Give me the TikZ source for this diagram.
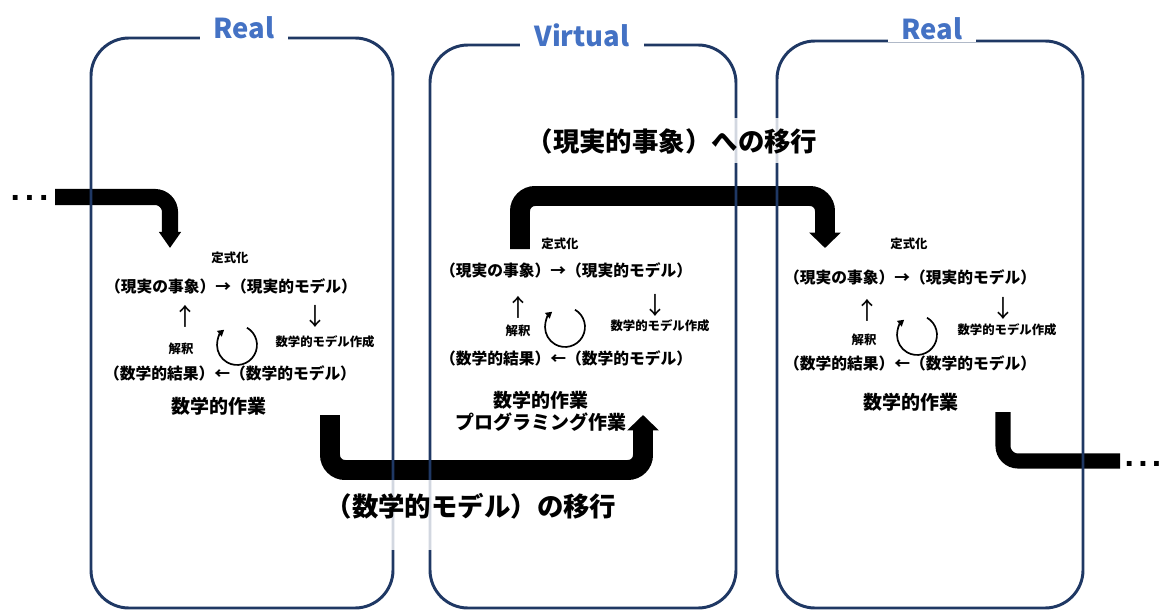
\documentclass[tikz,border=0pt]{standalone}
\usepackage{fontspec}
\setmainfont{Noto Sans CJK JP}
\newfontfamily\dotfont{Liberation Sans}
\usetikzlibrary{arrows.meta}
\definecolor{framenavy}{HTML}{1F3864}
\definecolor{titleblue}{HTML}{4472C4}

\begin{document}
\begin{tikzpicture}[x=0.025cm,y=-0.025cm,
    world/.style={draw=framenavy,line width=2.1pt,rounded corners=27pt},
    title/.style={fill=white,text=titleblue,font=\bfseries\fontsize{19.5}{22}\selectfont,inner xsep=10pt,inner ysep=1pt},
    eq/.style={font=\bfseries\fontsize{11.2}{13}\selectfont,inner sep=0pt},
    vert/.style={font=\fontsize{17}{18}\selectfont,inner sep=0pt},
    tag/.style={font=\bfseries\fontsize{8.8}{10}\selectfont,inner sep=0pt},
    work/.style={font=\bfseries\fontsize{13.5}{15.6}\selectfont,inner sep=0pt,align=center},
    move/.style={font=\bfseries\fontsize{18.8}{22}\selectfont,fill=white,fill opacity=0.8,text opacity=1,inner xsep=4pt,inner ysep=0pt,anchor=base},
    flow/.style={line width=14.2pt,rounded corners=10.7pt},
    bighead/.style={-{Triangle[width=22pt,length=11pt]}},
    cycarrow/.style={line width=1.2pt,-{Triangle[width=5pt,length=4.5pt]}},
    dots/.style={font=\dotfont\bfseries\fontsize{24}{24}\selectfont,inner sep=0pt,anchor=base}]

    \useasboundingbox (0,0) rectangle (1162,610);

    % thick arrows from one world to the next
    \coordinate (in1) at (55,197);
    \coordinate (in2) at (170,248);
    \draw[flow,line width=11.4pt,-{Triangle[width=15pt,length=11.4pt]}] (in1) -| (in2);
    \coordinate (tovs) at (330,415);
    \coordinate (tove) at (643,415);
    \draw[flow,bighead] (tovs) -- ++(0,55) -| (tove);
    \coordinate (tors) at (520,249);
    \coordinate (tore) at (825,248);
    \draw[flow,bighead] (tors) -- ++(0,-53) -| (tore);
    \coordinate (out1) at (1003,412);
    \coordinate (out2) at (1120,461);
    \draw[flow,line width=10.7pt] (out1) |- (out2);
    \node[dots] (ldots) at (29.5,200.5) {.\kern3.5pt.\kern3.5pt.};
    \node[dots] (rdots) at (1143,466) {.\kern3pt.\kern3pt.};

    % the three worlds
    \draw[world] (91,38) rectangle (393,608);
    \draw[world] (430,45) rectangle (736,608);
    \draw[world] (777,41) rectangle (1083,608);
    \node[title] (lt) at (244,28) {Real};
    \node[title] (mt) at (582,35) {Virtual};
    \node[title] (rt) at (932,29) {Real};

    % left: real
    \node[tag] (lfml) at (230,258) {定式化};
    \node[eq] (lreal) at (231,286) {（現実の事象）→（現実的モデル）};
    \node[vert] (lup) at (185,316) {↑};
    \node[vert] (ldown) at (315,316) {↓};
    \node[tag] (lmake) at (325,342) {数学的モデル作成};
    \node[tag] (linterp) at (181,349) {解釈};
    \node[eq] (lmath) at (230,373) {（数学的結果）←（数学的モデル）};
    \node[work] (lwork) at (219,406) {数学的作業};
    \coordinate (lc) at (237,345);
    \draw[cycarrow] (lc) ++(60:14.2pt) arc[start angle=60,end angle=-230,radius=14.2pt];

    % middle: virtual
    \node[tag] (mfml) at (560,244) {定式化};
    \node[eq] (mreal) at (566,270) {（現実の事象）→（現実的モデル）};
    \node[vert] (mup) at (518,307) {↑};
    \node[vert] (mdown) at (655,305) {↓};
    \node[tag] (mmake) at (660,326) {数学的モデル作成};
    \node[tag] (minterp) at (518,331) {解釈};
    \node[eq] (mmath) at (566,358) {（数学的結果）←（数学的モデル）};
    \node[work] (mwork) at (541,411) {数学的作業\\プログラミング作業};
    \coordinate (mc) at (565,327);
    \draw[cycarrow] (mc) ++(60:14.2pt) arc[start angle=60,end angle=-230,radius=14.2pt];

    % right: real
    \node[tag] (rfml) at (909,244) {定式化};
    \node[eq] (rreal) at (910,277) {（現実の事象）→（現実的モデル）};
    \node[vert] (rup) at (867,310) {↑};
    \node[vert] (rdown) at (1003,308) {↓};
    \node[tag] (rmake) at (1007,330) {数学的モデル作成};
    \node[tag] (rinterp) at (864,340) {解釈};
    \node[eq] (rmath) at (910,363) {（数学的結果）←（数学的モデル）};
    \node[work] (rwork) at (911,402) {数学的作業};
    \coordinate (rc) at (917,335);
    \draw[cycarrow] (rc) ++(60:14.2pt) arc[start angle=60,end angle=-230,radius=14.2pt];

    % what moves across
    \node[move,text height=24pt,text depth=7.8pt] (toreal) at (672,152) {（現実的事象）への移行};
    \node[move,text height=25.6pt,text depth=24pt] (tovirt) at (471,516) {（数学的モデル）の移行};
\end{tikzpicture}
\end{document}
